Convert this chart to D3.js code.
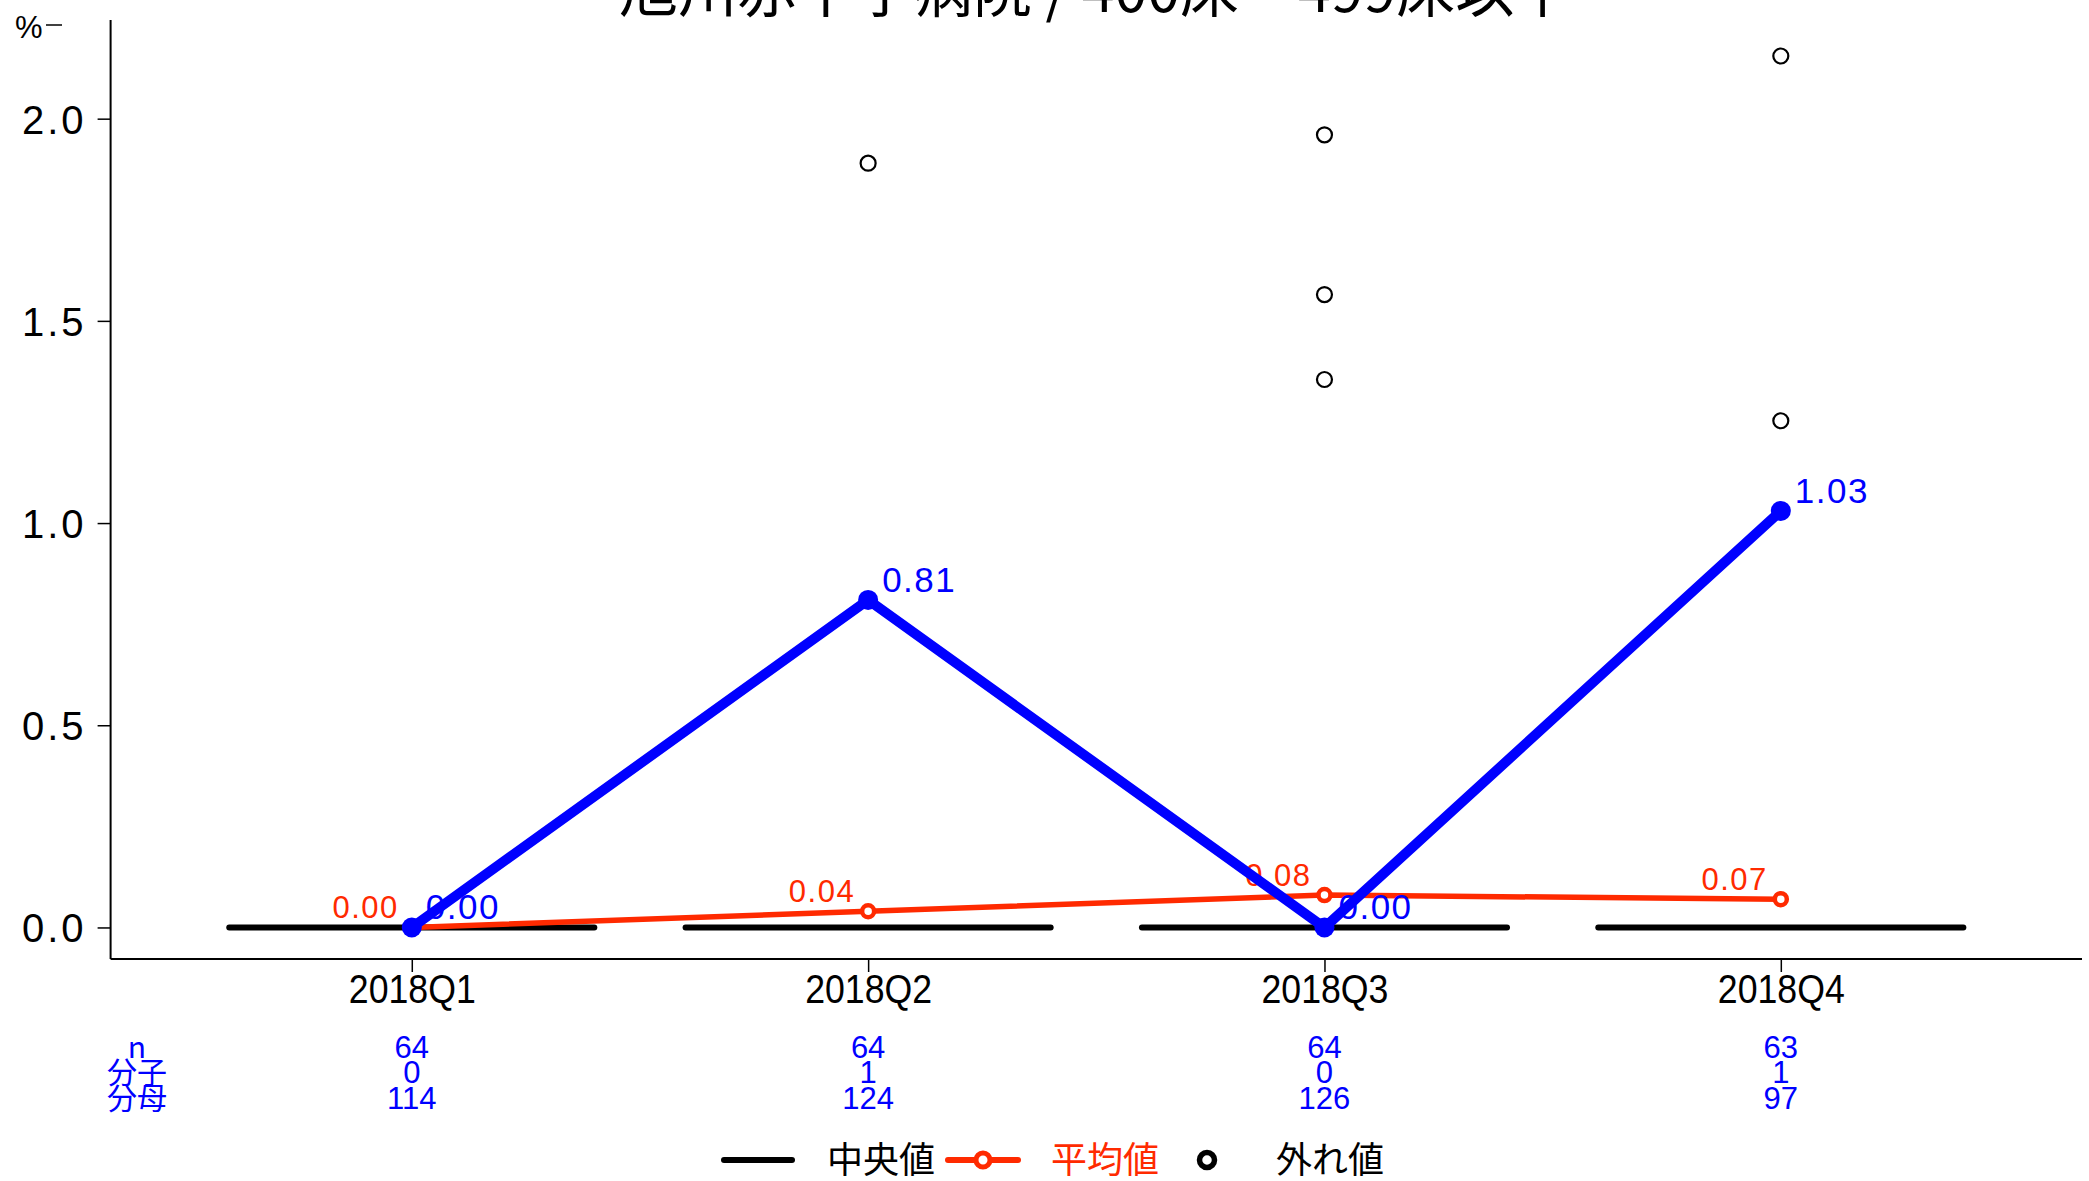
<!DOCTYPE html>
<html><head><meta charset="utf-8">
<script src="https://cdn.jsdelivr.net/npm/d3@7"></script>
<style>body{margin:0;background:#fff;}svg{display:block;}</style>
</head><body>
<script>
const categories = ["2018Q1","2018Q2","2018Q3","2018Q4"];
const hospitalValues = [0.00, 0.81, 0.00, 1.03];
const meanValues = [0.00, 0.04, 0.08, 0.07];
const medianValues = [0.00, 0.00, 0.00, 0.00];
const outliers = [
  {q:"2018Q2", v:1.89},
  {q:"2018Q3", v:1.96},{q:"2018Q3", v:1.565},{q:"2018Q3", v:1.355},
  {q:"2018Q4", v:2.155},{q:"2018Q4", v:1.253}
];
const nValues = [64,64,64,63];
const numerators = [0,1,0,1];
const denominators = [114,124,126,97];
const yTicks = [0.0,0.5,1.0,1.5,2.0];
const titleText = "旭川赤十字病院 / 400床～499床以下";
const tableLabels = ["n","分子","分母"];

const W = 2089, H = 1181;
const L = 110.6, R = 2082, T = 20, B = 959;
const svg = d3.select("body").append("svg").attr("width",W).attr("height",H);
const x = d3.scalePoint().domain(categories).range([L,R]).padding(0.66);
const y = d3.scaleLinear().domain([-0.078,2.244]).range([B,T]);
const step = x.step();
const BLUE = "#0000FF", RED = "#FF2A00";
const sansFont = "'Liberation Sans', Arial, sans-serif";
const jpFont = "'Noto Sans CJK JP', sans-serif";

// axes
const yAxis = d3.axisLeft(y).tickValues(yTicks).tickSize(13).tickPadding(11).tickFormat(d3.format(".1f"));
const gy = svg.append("g").attr("transform",`translate(${L},0)`).call(yAxis);
gy.select(".domain").attr("stroke","#000").attr("stroke-width",2).attr("d",`M0,${T}V${B}`);
gy.selectAll(".tick line").attr("stroke","#000").attr("stroke-width",1.5);
gy.selectAll(".tick text").attr("font-family",sansFont).attr("font-size",40).attr("fill","#000")
  .attr("dy","0.36em").style("letter-spacing","3px");

const xAxis = d3.axisBottom(x).tickSize(13).tickPadding(6);
const gx = svg.append("g").attr("transform",`translate(0,${B})`).call(xAxis);
gx.select(".domain").attr("stroke","#000").attr("stroke-width",2).attr("d",`M${L},0H${R}`);
gx.selectAll(".tick line").attr("stroke","#000").attr("stroke-width",1.5);
gx.selectAll(".tick text").attr("font-family",sansFont).attr("font-size",41).attr("fill","#000")
  .attr("dy","0.6em").attr("transform","scale(0.87,1)");

// y unit label
svg.append("text").attr("x",15).attr("y",38).attr("font-family",sansFont).attr("font-size",31).text("%");
svg.append("line").attr("x1",46).attr("x2",62).attr("y1",y(2.244)+5).attr("y2",y(2.244)+5).attr("stroke","#000").attr("stroke-width",1.5);

// title
svg.append("text").attr("x",(L+R)/2).attr("y",12).attr("text-anchor","middle")
  .attr("font-family",jpFont).attr("font-size",59).attr("fill","#000").text(titleText);

// medians
svg.append("g").selectAll("line").data(categories).join("line")
  .attr("x1",d=>x(d)-step*0.4).attr("x2",d=>x(d)+step*0.4)
  .attr("y1",(d,i)=>y(medianValues[i])).attr("y2",(d,i)=>y(medianValues[i]))
  .attr("stroke","#000").attr("stroke-width",6).attr("stroke-linecap","round");

// outliers
svg.append("g").selectAll("circle").data(outliers).join("circle")
  .attr("cx",d=>x(d.q)).attr("cy",d=>y(d.v)).attr("r",7.5)
  .attr("fill","none").attr("stroke","#000").attr("stroke-width",2.2);

// mean line
const meanData = categories.map((c,i)=>({c,v:meanValues[i]}));
const line = d3.line().x(d=>x(d.c)).y(d=>y(d.v));
svg.append("path").datum(meanData).attr("d",line).attr("fill","none").attr("stroke",RED).attr("stroke-width",5.5);
svg.append("g").selectAll("circle").data(meanData).join("circle")
  .attr("cx",d=>x(d.c)).attr("cy",d=>y(d.v)).attr("r",6)
  .attr("fill","#fff").attr("stroke",RED).attr("stroke-width",4.5);
svg.append("g").selectAll("text").data(meanData).join("text")
  .attr("x",d=>x(d.c)-13).attr("y",d=>y(d.v)-9).attr("text-anchor","end")
  .attr("font-family",sansFont).attr("font-size",31).attr("fill",RED).style("letter-spacing","1.5px")
  .text(d=>d.v.toFixed(2));

// hospital line
const hospData = categories.map((c,i)=>({c,v:hospitalValues[i]}));
svg.append("path").datum(hospData).attr("d",line).attr("fill","none").attr("stroke",BLUE).attr("stroke-width",10);
svg.append("g").selectAll("circle").data(hospData).join("circle")
  .attr("cx",d=>x(d.c)).attr("cy",d=>y(d.v)).attr("r",10).attr("fill",BLUE);
svg.append("g").selectAll("text").data(hospData).join("text")
  .attr("x",d=>x(d.c)+14).attr("y",d=>y(d.v)-8)
  .attr("font-family",sansFont).attr("font-size",35).attr("fill",BLUE).style("letter-spacing","1.5px")
  .text(d=>d.v.toFixed(2));

// table
const rowsY = [1047,1072,1098];
const rows = [nValues,numerators,denominators];
rows.forEach((vals,ri)=>{
  svg.append("text").attr("x",137).attr("y",rowsY[ri]).attr("dy","0.35em").attr("text-anchor","middle")
    .attr("font-family",jpFont).attr("font-size",30).attr("fill",BLUE).text(tableLabels[ri]);
  svg.append("g").selectAll("text").data(vals).join("text")
    .attr("x",(d,i)=>x(categories[i])).attr("y",rowsY[ri]).attr("dy","0.35em").attr("text-anchor","middle")
    .attr("font-family",sansFont).attr("font-size",31).attr("fill",BLUE).text(d=>d);
});

// legend
const ly = 1160;
const lg = svg.append("g");
lg.append("line").attr("x1",724).attr("x2",792).attr("y1",ly).attr("y2",ly).attr("stroke","#000").attr("stroke-width",6).attr("stroke-linecap","round");
lg.append("text").attr("x",827).attr("y",ly).attr("dy","0.36em").attr("font-family",jpFont).attr("font-size",36).text("中央値");
lg.append("line").attr("x1",948).attr("x2",1018).attr("y1",ly).attr("y2",ly).attr("stroke",RED).attr("stroke-width",6).attr("stroke-linecap","round");
lg.append("circle").attr("cx",983).attr("cy",ly).attr("r",7).attr("fill","#fff").attr("stroke",RED).attr("stroke-width",5);
lg.append("text").attr("x",1051).attr("y",ly).attr("dy","0.36em").attr("font-family",jpFont).attr("font-size",36).attr("fill",RED).text("平均値");
lg.append("circle").attr("cx",1207).attr("cy",ly).attr("r",7.5).attr("fill","#fff").attr("stroke","#000").attr("stroke-width",5.5);
lg.append("text").attr("x",1276).attr("y",ly).attr("dy","0.36em").attr("font-family",jpFont).attr("font-size",36).text("外れ値");
</script>
</body></html>
